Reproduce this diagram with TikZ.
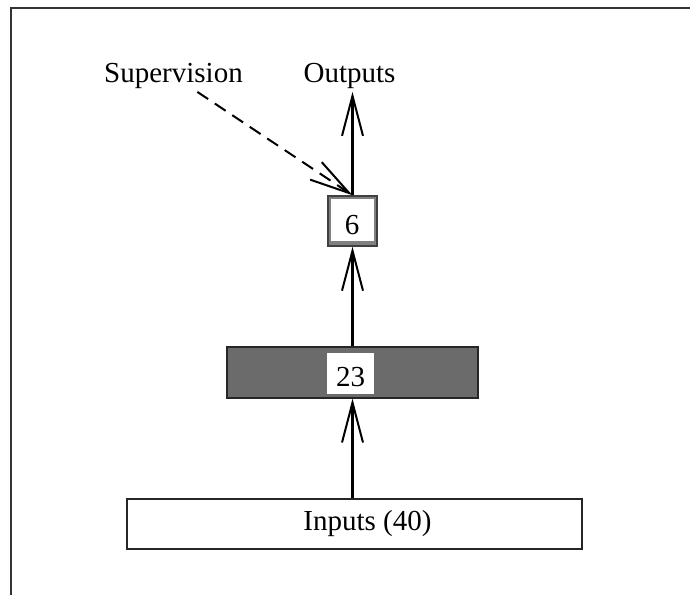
\documentclass[tikz,border=0pt]{standalone}
\usepackage{fontspec}
\setmainfont{Liberation Serif}
\usetikzlibrary{arrows.meta}
\begin{document}
\begin{tikzpicture}[x=1pt,y=-1pt]
\tikzstyle{box} = [draw=black!85, line width=1.2, inner sep=0]
\tikzstyle{txt} = [inner sep=3, font=\fontsize{29}{34}\selectfont]
\tikzstyle{arrow} = [line width=2.4, -{Straight Barb[length=40pt,width=21pt,line width=2pt]}]
\useasboundingbox (0,0) rectangle (690,595);
% frame
\draw [line width=2, black!80] (11,595) -- (11,8) -- (690,8);
% layers
\node [box, txt, inner sep=0, fill=white, minimum width=455, minimum height=50] (inputs) at (354.5,524) {\hspace*{26pt}Inputs (40)};
\node [box, fill=black!58, minimum width=251, minimum height=51] (hidden) at (352.5,372.5) {};
\node [txt, fill=white, inner sep=0, minimum width=47, minimum height=41, text height=27.6, text depth=0] (hiddennum) at (350.5,373) {23};
\node [box, fill=black!50, draw=black!75, line width=1.5, minimum width=49, minimum height=50] (out) at (352.5,221) {};
\node [txt, fill=white, inner sep=0, minimum width=43, minimum height=42, text height=29.6, text depth=0] (outnum) at (352,220) {6};
\node [txt] (outputs) at (349.5,76) {Outputs};
\node [txt] (supervision) at (173.5,76) {Supervision};
% connections
\draw [arrow] (hidden.south |- inputs.north) -- (hidden.south);
\draw [arrow] (hidden.north) -- (out.south);
\draw [arrow] (out.north) -- (out.north |- outputs.south);
\draw [arrow, line width=2, dash pattern=on 13pt off 8pt] (supervision) -- (out.north);
\end{tikzpicture}
\end{document}
